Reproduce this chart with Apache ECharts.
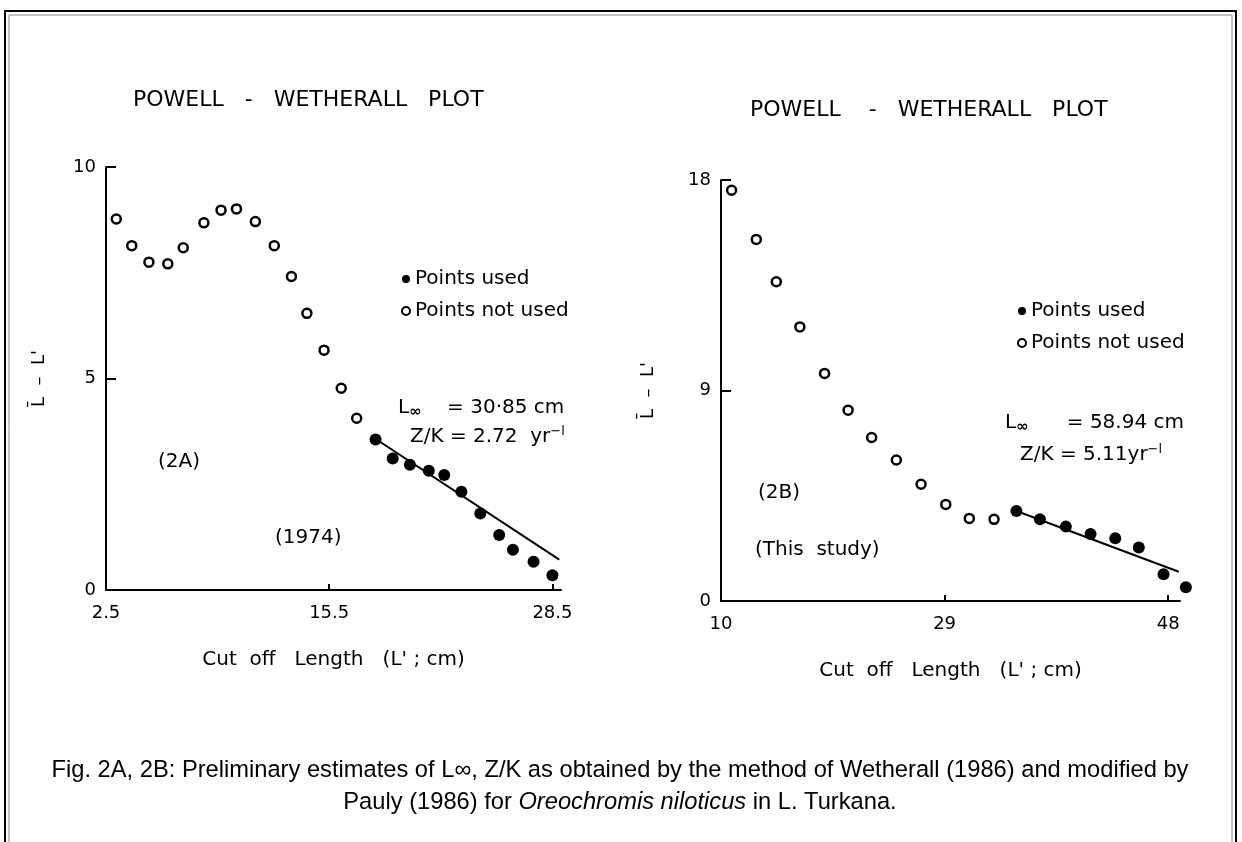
<!DOCTYPE html>
<html>
<head>
<meta charset="utf-8">
<title>Powell - Wetherall plot</title>
<script src="https://cdn.jsdelivr.net/npm/echarts@6/dist/echarts.min.js"></script>
<style>
  html, body { margin: 0; padding: 0; background: #fff; }
  #chart { width: 1242px; height: 842px; }
</style>
</head>
<body>
<div id="chart"></div>
<script>
// 2A (1974): cut-off length L' (cm) vs mean length minus L'
const usedA = [
  [18.2, 3.56], [19.2, 3.11], [20.2, 2.96], [21.3, 2.82], [22.2, 2.72],
  [23.2, 2.32], [24.3, 1.81], [25.4, 1.30], [26.2, 0.95], [27.4, 0.67], [28.5, 0.35]
];
const notUsedA = [
  [3.1, 8.77], [4.0, 8.14], [5.0, 7.75], [6.1, 7.71], [7.0, 8.09], [8.2, 8.68],
  [9.2, 8.98], [10.1, 9.01], [11.2, 8.71], [12.3, 8.14], [13.3, 7.41], [14.2, 6.54],
  [15.2, 5.67], [16.2, 4.77], [17.1, 4.06]
];
const fitA = [[18.1, 3.6], [28.9, 0.72]];

// 2B (this study)
const usedB = [
  [35.1, 3.85], [37.1, 3.49], [39.3, 3.18], [41.4, 2.86], [43.5, 2.68],
  [45.5, 2.29], [47.6, 1.14], [49.5, 0.59]
];
const notUsedB = [
  [10.9, 17.56], [13.0, 15.46], [14.7, 13.65], [16.7, 11.72], [18.8, 9.73],
  [20.8, 8.16], [22.8, 6.99], [24.9, 6.03], [27.0, 4.99], [29.1, 4.13],
  [31.1, 3.53], [33.2, 3.49]
];
const fitB = [[35.1, 3.85], [48.9, 1.25]];

const xTicksA = [2.5, 15.5, 28.5];
const yTicksA = [0, 5, 10];
const xTicksB = [10, 29, 48];
const yTicksB = [0, 9, 18];

const handFont = 'DejaVu Sans';
const captionFont = 'Liberation Sans';
const chart = echarts.init(document.getElementById('chart'));

function xAxis(grid, min, max, ticks) {
  return {
    type: 'value', gridIndex: grid, min: min, max: max,
    name: "Cut  off   Length   (L' ; cm)",
    nameLocation: 'middle', nameGap: 60,
    nameTextStyle: { color: '#000', fontSize: 20, fontFamily: handFont },
    axisLine: { lineStyle: { color: '#000', width: 2 } },
    axisTick: { inside: true, length: 6, customValues: ticks, lineStyle: { color: '#000', width: 2 } },
    axisLabel: { customValues: ticks, color: '#000', fontSize: 18, fontFamily: handFont, margin: 14 },
    splitLine: { show: false }
  };
}

function yAxis(grid, max, ticks, gap) {
  return {
    type: 'value', gridIndex: grid, min: 0, max: max,
    name: "L\u0304  \u2013  L'",
    nameLocation: 'middle', nameGap: gap, nameRotate: 90,
    nameTextStyle: { color: '#000', fontSize: 18, fontFamily: handFont },
    axisLine: { lineStyle: { color: '#000', width: 2 } },
    axisTick: { inside: true, length: 10, customValues: ticks, lineStyle: { color: '#000', width: 2 } },
    axisLabel: { customValues: ticks, color: '#000', fontSize: 18, fontFamily: handFont, margin: 10 },
    splitLine: { show: false }
  };
}

const openStyle = { color: '#fff', borderColor: '#000', borderWidth: 2.5, opacity: 1 };
const fullStyle = { color: '#000', opacity: 1 };

function txt(x, y, text, size) {
  return {
    type: 'text', x: x, y: y,
    style: {
      text: text, fill: '#000', fontSize: size || 20, fontFamily: handFont,
      align: 'left', verticalAlign: 'middle',
      rich: {
        sub: { fontSize: 15, fontWeight: 'bold', verticalAlign: 'bottom', padding: [8, 0, 0, 0], fontFamily: handFont },
        sup: { fontSize: 13, verticalAlign: 'top', padding: [0, 0, 10, 0], fontFamily: handFont }
      }
    }
  };
}

const legendBase = {
  orient: 'vertical', itemGap: 12, itemWidth: 8, itemHeight: 8,
  data: ['Points used', 'Points not used'],
  textStyle: { color: '#000', fontSize: 20, fontFamily: handFont }
};

const option = {
  backgroundColor: '#fff',
  animation: false,
  grid: [
    { left: 106, top: 167, width: 455, height: 423 },
    { left: 721, top: 180, width: 459, height: 421 }
  ],
  xAxis: [xAxis(0, 2.5, 29, xTicksA), xAxis(1, 10, 49, xTicksB)],
  yAxis: [yAxis(0, 10, yTicksA, 58), yAxis(1, 18, yTicksB, 64)],
  legend: [
    Object.assign({ left: 396, top: 264 }, legendBase),
    Object.assign({ left: 1012, top: 296 }, legendBase)
  ],
  series: [
    { name: 'Points not used', type: 'scatter', xAxisIndex: 0, yAxisIndex: 0, symbol: 'circle',
      symbolSize: 9, itemStyle: openStyle, data: notUsedA },
    { name: 'Points used', type: 'scatter', xAxisIndex: 0, yAxisIndex: 0, symbol: 'circle',
      symbolSize: 12, itemStyle: fullStyle, data: usedA },
    { type: 'line', xAxisIndex: 0, yAxisIndex: 0, showSymbol: false, silent: true,
      lineStyle: { color: '#000', width: 2 }, data: fitA },
    { name: 'Points not used', type: 'scatter', xAxisIndex: 1, yAxisIndex: 1, symbol: 'circle',
      symbolSize: 9, itemStyle: openStyle, data: notUsedB, clip: false },
    { name: 'Points used', type: 'scatter', xAxisIndex: 1, yAxisIndex: 1, symbol: 'circle',
      symbolSize: 12, itemStyle: fullStyle, data: usedB, clip: false },
    { type: 'line', xAxisIndex: 1, yAxisIndex: 1, showSymbol: false, silent: true,
      lineStyle: { color: '#000', width: 2 }, data: fitB }
  ],
  graphic: [
    { type: 'polyline', shape: { points: [[5, 842], [5, 11], [1236, 11], [1236, 842]] },
      style: { stroke: '#000', lineWidth: 2, fill: null } },
    { type: 'polyline', shape: { points: [[9, 842], [9, 15], [1232, 15], [1232, 842]] },
      style: { stroke: '#888', lineWidth: 1, fill: null } },
    txt(133, 100, 'POWELL   -   WETHERALL   PLOT', 22),
    txt(750, 110, 'POWELL    -   WETHERALL   PLOT', 22),
    txt(398, 408, 'L{sub|\u221e}    = 30\u00b785 cm'),
    txt(410, 437, 'Z/K = 2.72  yr{sup|\u2212l}'),
    txt(158, 462, '(2A)'),
    txt(275, 538, '(1974)'),
    txt(1005, 423, 'L{sub|\u221e}      = 58.94 cm'),
    txt(1020, 455, 'Z/K = 5.11yr{sup|\u2212l}'),
    txt(758, 493, '(2B)'),
    txt(755, 550, '(This  study)'),
    {
      type: 'text', x: 620, y: 770,
      style: {
        text: 'Fig. 2A, 2B: Preliminary estimates of L\u221e, Z/K as obtained by the method of Wetherall (1986) and modified by',
        fill: '#000', fontSize: 23.7, fontFamily: captionFont,
        align: 'center', verticalAlign: 'middle'
      }
    },
    {
      type: 'text', x: 620, y: 802,
      style: {
        text: 'Pauly (1986) for {i|Oreochromis niloticus} in L. Turkana.',
        fill: '#000', fontSize: 23.7, fontFamily: captionFont,
        align: 'center', verticalAlign: 'middle',
        rich: { i: { fontStyle: 'italic', fontSize: 23.7, fontFamily: captionFont } }
      }
    }
  ]
};

chart.setOption(option);
</script>
</body>
</html>
